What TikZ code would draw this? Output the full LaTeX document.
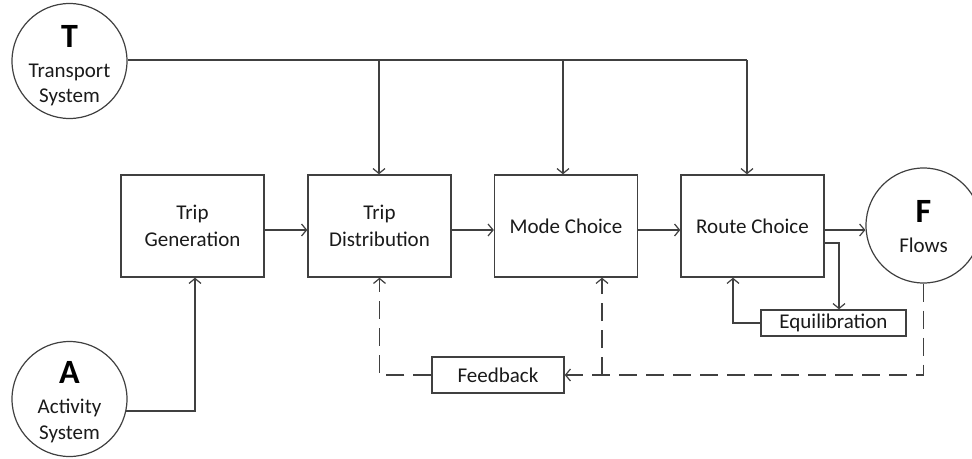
\documentclass[tikz,border=0pt]{standalone}
\usepackage{fontspec}
\setmainfont{Carlito}
\usetikzlibrary{arrows.meta,calc}
\definecolor{linegray}{HTML}{404040}
\definecolor{txt}{HTML}{1A1A1A}
\tikzset{
  base/.style={font=\fontsize{21}{27}\selectfont, text=txt},
  stage/.style={base, draw=linegray, line width=1.4pt, fill=white,
    minimum width=143pt, minimum height=102pt, align=center, inner sep=0pt},
  smallbox/.style={base, draw=linegray, line width=1.4pt, fill=white,
    inner sep=0pt, align=center},
  system/.style={draw=linegray, line width=1.2pt, circle, minimum size=115pt, inner sep=0pt},
  letter/.style={font=\fontsize{34}{34}\selectfont\bfseries, text=black, anchor=base, inner sep=0pt},
  caption/.style={base, anchor=base, inner sep=0pt},
  link/.style={draw=linegray, line width=1.4pt},
  flow/.style={link, -{Straight Barb[length=5pt,width=12pt,line width=1.2pt]}},
  feedback/.style={flow, dash pattern=on 18pt off 9pt},
}
\begin{document}
\begin{tikzpicture}[x=1pt,y=-1pt]
\useasboundingbox (0,0) rectangle (972,458);

% system circles
\node[system] (T) at (69.5,61) {};
\node[letter]  (Tl) at (69.5,47)  {T};
\node[caption] (Tc1) at (69.5,77) {Transport};
\node[caption] (Tc2) at (69.5,102) {System};

\node[system] (A) at (69.5,399) {};
\node[letter]  (Al) at (69.5,383) {A};
\node[caption] (Ac1) at (69.5,413) {Activity};
\node[caption] (Ac2) at (69.5,439) {System};

\node[system] (F) at (923.5,225.5) {};
\node[letter]  (Fl) at (923.5,222) {F};
\node[caption] (Fc1) at (923.5,252) {Flows};

% four-step stages
\node[stage] (TG) at (192.5,226) {Trip\\Generation};
\node[stage] (TD) at (379.5,226) {Trip\\Distribution};
\node[stage] (MC) at (566,226)   {Mode Choice};
\node[stage] (RC) at (752.5,226) {Route Choice};

% helper boxes
\node[smallbox, minimum width=145pt, minimum height=26pt] (EQ) at (833.5,323) {Equilibration};
\node[smallbox, minimum width=132pt, minimum height=36pt] (FB) at (498,375) {Feedback};

% transport system supply line
\coordinate (s1) at (379,60);
\coordinate (s2) at (563,60);
\coordinate (s3) at (747,60);
\draw[link] (T.east |- s1) -- (s3);
\draw[flow] (s1) -- (s1 |- TD.north);
\draw[flow] (s2) -- (s2 |- MC.north);
\draw[flow] (s3) -- (s3 |- RC.north);

% main chain
\draw[flow] ([yshift=-4pt]TG.east) -- ([yshift=-4pt]TD.west);
\draw[flow] ([yshift=-4pt]TD.east) -- ([yshift=-4pt]MC.west);
\draw[flow] ([yshift=-4pt]MC.east) -- ([yshift=-4pt]RC.west);
\draw[flow] ([yshift=-4pt]RC.east) -- ([yshift=-4pt]RC.east -| F.west);

% activity system input
\draw[flow] (A.-12) -| ([xshift=2.5pt]TG.south);

% equilibration loop
\draw[flow] ([yshift=-17pt]RC.east) -| ([xshift=5.5pt]EQ.north);
\draw[flow] (EQ.west) -| ([xshift=-19.5pt]RC.south);

% feedback loop
\coordinate (fm) at (602,375);
\draw[feedback] (F.south) |- (FB.east);
\draw[feedback] (FB.west) -| (TD.south);
\draw[feedback] (fm) -- (fm |- MC.south);
\end{tikzpicture}
\end{document}
